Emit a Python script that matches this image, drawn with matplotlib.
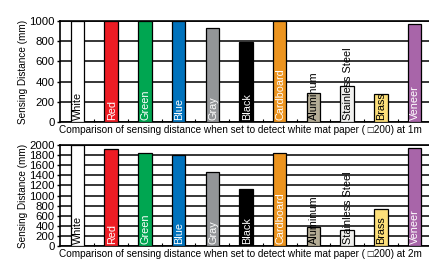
import matplotlib
matplotlib.use('Agg')
import matplotlib.pyplot as plt

plt.rcParams['font.family'] = ['Liberation Sans', 'DejaVu Sans']

materials = ['White', 'Red', 'Green', 'Blue', 'Gray', 'Black', 'Cardboard',
             'Aluminum', 'Stainless Steel', 'Brass', 'Veneer']
dist_1m = [1000, 1000, 1000, 1000, 930, 795, 1000, 290, 360, 280, 970]
dist_2m = [2000, 1930, 1850, 1800, 1460, 1120, 1850, 380, 320, 730, 1950]
colors = ['#ffffff', '#ed1c24', '#00a651', '#0072bc', '#939598', '#000000',
          '#ec941f', '#b5ad96', '#f0f0ee', '#fde07a', '#a865a9']
text_colors = ['black', 'white', 'white', 'white', 'white', 'white', 'white',
               'black', 'black', 'black', 'white']
captions = ['Comparison of sensing distance when set to detect white mat paper ( \u25a1200) at 1m',
            'Comparison of sensing distance when set to detect white mat paper ( \u25a1200) at 2m']

W, H = 429, 259
fig = plt.figure(figsize=(W / 100, H / 100), dpi=100)

def px_axes(x0, y0, x1, y1):
    return fig.add_axes([x0 / W, 1 - y1 / H, (x1 - x0) / W, (y1 - y0) / H])

ax1 = px_axes(60, 21, 429, 122)
ax2 = px_axes(60, 145, 429, 246)

for ax, vals, ymax, cap in [(ax1, dist_1m, 1000, captions[0]), (ax2, dist_2m, 2000, captions[1])]:
    x = list(range(len(materials)))
    ax.bar(x, vals, width=0.4, color=colors, edgecolor='black', linewidth=0.9, zorder=3)
    ax.set_xlim(-0.52, 10.43)
    ax.set_ylim(0, ymax)
    ax.set_yticks(range(0, ymax + 1, 200))
    ax.yaxis.grid(True, color='black', linewidth=1.1, zorder=0)
    ax.set_axisbelow(True)
    ax.set_xticks([])
    ax.set_xticks([i + 0.5 for i in range(len(materials) - 1)], minor=True)
    ax.tick_params(axis='x', which='minor', direction='in', length=2.5, width=0.8)
    ax.tick_params(axis='y', direction='out', length=2.5, width=1, labelsize=8.2, pad=1.5)
    for s in ['left', 'top', 'bottom']:
        ax.spines[s].set_linewidth(1.2)
    ax.spines['right'].set_visible(False)
    ax.set_ylabel('Sensing Distance (mm)', fontsize=7.2, labelpad=1)
    for xi, name, tc in zip(x, materials, text_colors):
        ax.annotate(name, (xi, 0), xytext=(0.5, 1.5), textcoords='offset points',
                    rotation=90, ha='center', va='bottom', color=tc,
                    fontsize=7.8, zorder=5)
    ax.text(0.49, -0.025, cap, transform=ax.transAxes, ha='center', va='top', fontsize=7.2)

fig.savefig('out.png', dpi=100)
